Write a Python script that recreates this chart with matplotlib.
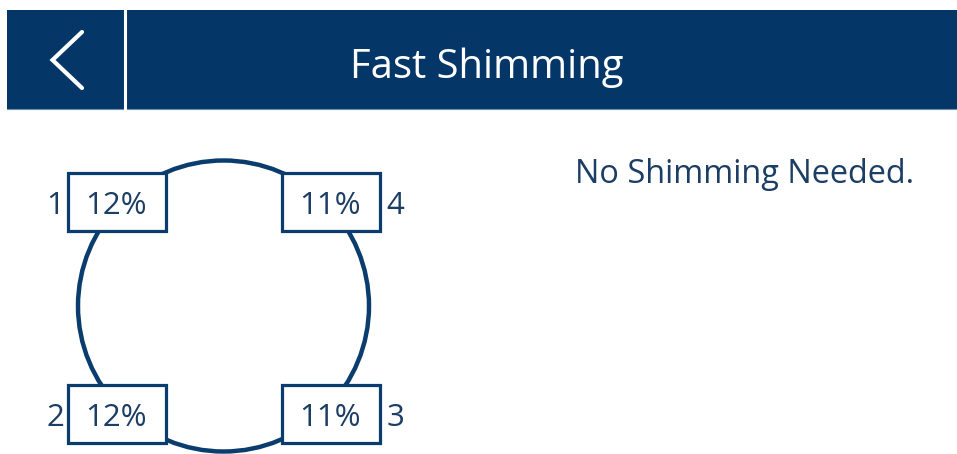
import matplotlib
matplotlib.use('Agg')
import matplotlib.pyplot as plt
from matplotlib.patches import Rectangle, Circle

# load cell readings
cells = ['1', '2', '3', '4']
loads = [12, 12, 11, 11]
title = 'Fast Shimming'
status = 'No Shimming Needed.'

NAVY = '#043767'
LINE = '#0a3d6e'
TXT = '#1c3d64'

W, H = 957, 454
fig = plt.figure(figsize=(W / 100, H / 100), dpi=100)
ax = fig.add_axes([0, 0, 1, 1])
ax.set_xlim(0, W)
ax.set_ylim(H, 0)
ax.set_aspect('equal')
ax.axis('off')

# header bar
ax.add_patch(Rectangle((7, 10), W - 7, 99, facecolor=NAVY, edgecolor='none'))
ax.plot([7, W], [108.5, 108.5], color='#6f8fb0', lw=0.8)
ax.plot([124.5, 124.5], [10, 109], color='white', lw=2.2)
ax.plot([82, 52.5, 82], [32, 60, 88], color='white', lw=3.0,
        solid_capstyle='round', solid_joinstyle='miter')
ax.text(487, 78.5, title, color='white', family='Open Sans',
        fontsize=28.8, ha='center', va='baseline')

ax.text(575, 183, status, color=TXT, family='Open Sans', fontsize=23.4,
        ha='left', va='baseline')

# scale platform
ax.add_patch(Circle((223.5, 306), 145.5, facecolor='none', edgecolor=LINE, lw=3.2, zorder=2))

# box positions per cell: (left, top), label side
boxes = {'1': (68, 173, 'left'), '4': (282, 173, 'right'),
         '2': (68, 385, 'left'), '3': (282, 385, 'right')}
bw, bh = 98, 58
for cell, val in zip(cells, loads):
    x0, y0, side = boxes[cell]
    ax.add_patch(Rectangle((x0, y0), bw, bh, facecolor='white', edgecolor=LINE,
                           lw=2.3, zorder=3))
    ax.text(x0 + bw / 2 - 1, y0 + 40.5, f'{val}%', color=TXT, family='Open Sans',
            fontsize=22.5, ha='center', va='baseline', zorder=4)
    lx = x0 - 13 if side == 'left' else x0 + bw + 15
    ax.text(lx, y0 + 40.5, cell, color=TXT, family='Open Sans', fontsize=22.5,
            ha='center', va='baseline', zorder=4)

fig.savefig('out.png', dpi=100, facecolor='white')
plt.close(fig)
